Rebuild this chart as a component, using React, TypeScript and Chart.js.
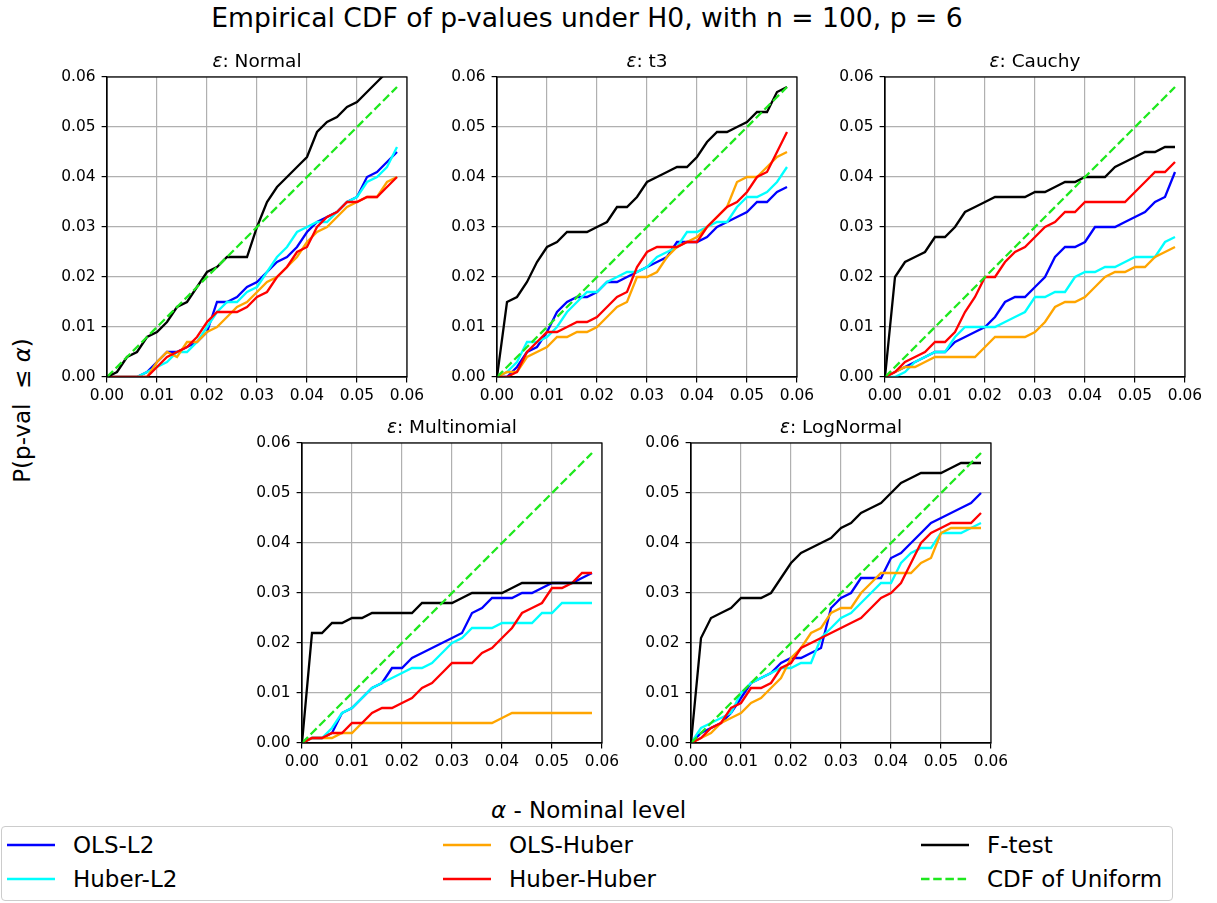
import React, { useEffect, useRef } from "react";
import { Chart, registerables } from "chart.js";

Chart.register(...registerables);

const FONT = "'DejaVu Sans', 'Liberation Sans', sans-serif";

// Nominal levels alpha at which the empirical CDFs are evaluated
const alpha = [
  0, 0.002, 0.004, 0.006, 0.008, 0.01, 0.012, 0.014, 0.016, 0.018,
  0.02, 0.022, 0.024, 0.026, 0.028, 0.03, 0.032, 0.034, 0.036, 0.038,
  0.04, 0.042, 0.044, 0.046, 0.048, 0.05, 0.052, 0.054, 0.056, 0.058,
];

const tickValues = [0, 0.01, 0.02, 0.03, 0.04, 0.05, 0.06];

// ε: Normal
const normalOlsL2 = [0, 0, 0, 0, 0.001, 0.003, 0.005, 0.005, 0.006, 0.007, 0.009, 0.015, 0.015, 0.016, 0.018, 0.019, 0.021, 0.023, 0.024, 0.026, 0.029, 0.031, 0.032, 0.033, 0.035, 0.036, 0.04, 0.041, 0.043, 0.045];
const normalHuberL2 = [0, 0, 0, 0, 0.001, 0.002, 0.003, 0.005, 0.005, 0.007, 0.01, 0.013, 0.015, 0.015, 0.017, 0.018, 0.021, 0.024, 0.026, 0.029, 0.03, 0.031, 0.031, 0.033, 0.035, 0.036, 0.039, 0.04, 0.042, 0.046];
const normalOlsHuber = [0, 0, 0, 0, 0, 0.003, 0.005, 0.004, 0.007, 0.007, 0.009, 0.01, 0.012, 0.014, 0.015, 0.017, 0.019, 0.02, 0.022, 0.024, 0.027, 0.029, 0.03, 0.032, 0.034, 0.035, 0.036, 0.036, 0.039, 0.04];
const normalHuberHuber = [0, 0, 0, 0, 0, 0.002, 0.004, 0.005, 0.006, 0.008, 0.011, 0.013, 0.013, 0.013, 0.014, 0.016, 0.017, 0.02, 0.022, 0.025, 0.026, 0.03, 0.032, 0.033, 0.035, 0.035, 0.036, 0.036, 0.038, 0.04];
const normalFTest = [0, 0.001, 0.004, 0.005, 0.008, 0.009, 0.011, 0.014, 0.015, 0.018, 0.021, 0.022, 0.024, 0.024, 0.024, 0.03, 0.035, 0.038, 0.04, 0.042, 0.044, 0.049, 0.051, 0.052, 0.054, 0.055, 0.057, 0.059, 0.061, 0.063];

// ε: t3
const t3OlsL2 = [0, 0, 0.002, 0.005, 0.006, 0.009, 0.013, 0.015, 0.016, 0.016, 0.017, 0.019, 0.019, 0.02, 0.021, 0.022, 0.023, 0.024, 0.027, 0.027, 0.027, 0.028, 0.03, 0.031, 0.032, 0.033, 0.035, 0.035, 0.037, 0.038];
const t3HuberL2 = [0, 0.001, 0.003, 0.007, 0.007, 0.008, 0.01, 0.013, 0.015, 0.017, 0.017, 0.019, 0.02, 0.021, 0.021, 0.022, 0.024, 0.025, 0.026, 0.029, 0.029, 0.03, 0.031, 0.031, 0.034, 0.036, 0.036, 0.037, 0.039, 0.042];
const t3OlsHuber = [0, 0.001, 0.001, 0.004, 0.005, 0.006, 0.008, 0.008, 0.009, 0.009, 0.01, 0.012, 0.014, 0.015, 0.02, 0.02, 0.021, 0.024, 0.026, 0.027, 0.028, 0.03, 0.032, 0.034, 0.039, 0.04, 0.04, 0.042, 0.044, 0.045];
const t3HuberHuber = [0, 0, 0.001, 0.005, 0.007, 0.009, 0.009, 0.01, 0.011, 0.011, 0.012, 0.014, 0.016, 0.017, 0.022, 0.025, 0.026, 0.026, 0.026, 0.027, 0.027, 0.03, 0.032, 0.034, 0.035, 0.037, 0.04, 0.041, 0.045, 0.049];
const t3FTest = [0, 0.015, 0.016, 0.019, 0.023, 0.026, 0.027, 0.029, 0.029, 0.029, 0.03, 0.031, 0.034, 0.034, 0.036, 0.039, 0.04, 0.041, 0.042, 0.042, 0.044, 0.047, 0.049, 0.049, 0.05, 0.051, 0.053, 0.053, 0.057, 0.058];

// ε: Cauchy
const cauchyOlsL2 = [0, 0.001, 0.002, 0.003, 0.004, 0.005, 0.005, 0.007, 0.008, 0.009, 0.01, 0.012, 0.015, 0.016, 0.016, 0.018, 0.02, 0.024, 0.026, 0.026, 0.027, 0.03, 0.03, 0.03, 0.031, 0.032, 0.033, 0.035, 0.036, 0.041];
const cauchyHuberL2 = [0, 0, 0.001, 0.003, 0.004, 0.005, 0.005, 0.008, 0.01, 0.01, 0.01, 0.01, 0.011, 0.012, 0.013, 0.016, 0.016, 0.017, 0.017, 0.02, 0.021, 0.021, 0.022, 0.022, 0.023, 0.024, 0.024, 0.024, 0.027, 0.028];
const cauchyOlsHuber = [0, 0.001, 0.002, 0.002, 0.003, 0.004, 0.004, 0.004, 0.004, 0.004, 0.006, 0.008, 0.008, 0.008, 0.008, 0.009, 0.011, 0.014, 0.015, 0.015, 0.016, 0.018, 0.02, 0.021, 0.021, 0.022, 0.022, 0.024, 0.025, 0.026];
const cauchyHuberHuber = [0, 0.001, 0.003, 0.004, 0.005, 0.007, 0.007, 0.009, 0.013, 0.016, 0.02, 0.02, 0.023, 0.025, 0.026, 0.028, 0.03, 0.031, 0.033, 0.033, 0.035, 0.035, 0.035, 0.035, 0.035, 0.037, 0.039, 0.041, 0.041, 0.043];
const cauchyFTest = [0, 0.02, 0.023, 0.024, 0.025, 0.028, 0.028, 0.03, 0.033, 0.034, 0.035, 0.036, 0.036, 0.036, 0.036, 0.037, 0.037, 0.038, 0.039, 0.039, 0.04, 0.04, 0.04, 0.042, 0.043, 0.044, 0.045, 0.045, 0.046, 0.046];

// ε: Multinomial
const multiOlsL2 = [0, 0.001, 0.001, 0.002, 0.006, 0.007, 0.009, 0.011, 0.012, 0.015, 0.015, 0.017, 0.018, 0.019, 0.02, 0.021, 0.022, 0.026, 0.027, 0.029, 0.029, 0.029, 0.03, 0.03, 0.031, 0.032, 0.032, 0.032, 0.033, 0.034];
const multiHuberL2 = [0, 0.001, 0.001, 0.003, 0.006, 0.007, 0.009, 0.011, 0.012, 0.013, 0.014, 0.015, 0.015, 0.016, 0.018, 0.02, 0.021, 0.023, 0.023, 0.023, 0.024, 0.024, 0.024, 0.024, 0.026, 0.026, 0.028, 0.028, 0.028, 0.028];
const multiOlsHuber = [0, 0.001, 0.001, 0.001, 0.002, 0.002, 0.004, 0.004, 0.004, 0.004, 0.004, 0.004, 0.004, 0.004, 0.004, 0.004, 0.004, 0.004, 0.004, 0.004, 0.005, 0.006, 0.006, 0.006, 0.006, 0.006, 0.006, 0.006, 0.006, 0.006];
const multiHuberHuber = [0, 0.001, 0.001, 0.002, 0.002, 0.004, 0.004, 0.006, 0.007, 0.007, 0.008, 0.009, 0.011, 0.012, 0.014, 0.016, 0.016, 0.016, 0.018, 0.019, 0.021, 0.023, 0.026, 0.027, 0.028, 0.031, 0.031, 0.032, 0.034, 0.034];
const multiFTest = [0, 0.022, 0.022, 0.024, 0.024, 0.025, 0.025, 0.026, 0.026, 0.026, 0.026, 0.026, 0.028, 0.028, 0.028, 0.028, 0.029, 0.03, 0.03, 0.03, 0.03, 0.031, 0.032, 0.032, 0.032, 0.032, 0.032, 0.032, 0.032, 0.032];

// ε: LogNormal
const logOlsL2 = [0, 0.002, 0.003, 0.004, 0.006, 0.009, 0.012, 0.013, 0.014, 0.016, 0.017, 0.017, 0.018, 0.019, 0.027, 0.029, 0.03, 0.033, 0.033, 0.033, 0.037, 0.038, 0.04, 0.042, 0.044, 0.045, 0.046, 0.047, 0.048, 0.05];
const logHuberL2 = [0, 0.003, 0.004, 0.005, 0.006, 0.01, 0.012, 0.013, 0.014, 0.015, 0.015, 0.016, 0.016, 0.021, 0.023, 0.025, 0.026, 0.028, 0.03, 0.032, 0.032, 0.036, 0.038, 0.039, 0.039, 0.042, 0.042, 0.042, 0.043, 0.044];
const logOlsHuber = [0, 0.001, 0.002, 0.004, 0.005, 0.006, 0.008, 0.009, 0.011, 0.013, 0.017, 0.019, 0.022, 0.023, 0.026, 0.027, 0.027, 0.03, 0.032, 0.034, 0.034, 0.034, 0.034, 0.036, 0.037, 0.042, 0.043, 0.043, 0.043, 0.043];
const logHuberHuber = [0, 0.001, 0.003, 0.004, 0.007, 0.008, 0.011, 0.011, 0.012, 0.015, 0.016, 0.019, 0.02, 0.021, 0.022, 0.023, 0.024, 0.025, 0.027, 0.029, 0.03, 0.032, 0.036, 0.04, 0.042, 0.043, 0.044, 0.044, 0.044, 0.046];
const logFTest = [0, 0.021, 0.025, 0.026, 0.027, 0.029, 0.029, 0.029, 0.03, 0.033, 0.036, 0.038, 0.039, 0.04, 0.041, 0.043, 0.044, 0.046, 0.047, 0.048, 0.05, 0.052, 0.053, 0.054, 0.054, 0.054, 0.055, 0.056, 0.056, 0.056];

const seriesLabels = ["OLS-L2", "Huber-L2", "OLS-Huber", "Huber-Huber", "F-test"];
const seriesColors = ["#0000ff", "#00ffff", "#ffa500", "#ff0000", "#000000"];
const uniformLabel = "CDF of Uniform";
const uniformColor = "#1ee81e";

const panelNames = ["Normal", "t3", "Cauchy", "Multinomial", "LogNormal"];
const panelSeries = [
  [normalOlsL2, normalHuberL2, normalOlsHuber, normalHuberHuber, normalFTest],
  [t3OlsL2, t3HuberL2, t3OlsHuber, t3HuberHuber, t3FTest],
  [cauchyOlsL2, cauchyHuberL2, cauchyOlsHuber, cauchyHuberHuber, cauchyFTest],
  [multiOlsL2, multiHuberL2, multiOlsHuber, multiHuberHuber, multiFTest],
  [logOlsL2, logHuberL2, logOlsHuber, logHuberHuber, logFTest],
];

// Top-left corner of each plotting area (300 x 300 px)
const panelOrigins = [
  [107, 77],
  [497, 77],
  [885, 77],
  [302, 443],
  [691, 443],
];

const PLOT = 300;
const AXIS_W = 60;
const AXIS_H = 30;
const PAD_TOP = 18;
const PAD_RIGHT = 26;
const LINE_W = 2.3;
const DASH = [8.5, 3.7];

const framePlugin = {
  id: "axesFrame",
  afterDatasetsDraw(chart: any) {
    const { ctx, chartArea: a } = chart;
    ctx.save();
    ctx.strokeStyle = "#000";
    ctx.lineWidth = 1.2;
    ctx.strokeRect(a.left, a.top, a.right - a.left, a.bottom - a.top);
    ctx.restore();
  },
};

function axisOptions(isX: boolean) {
  return {
    type: "linear",
    min: 0,
    max: 0.06,
    afterBuildTicks: (scale: any) => {
      scale.ticks = tickValues.map((v) => ({ value: v }));
    },
    afterFit: (scale: any) => {
      if (isX) scale.height = AXIS_H;
      else scale.width = AXIS_W;
    },
    ticks: {
      color: "#000",
      font: { family: FONT, size: 15.4 },
      padding: isX ? 4 : 6,
      maxRotation: 0,
      autoSkip: false,
      callback: (v: number) => Number(v).toFixed(2),
    },
    grid: {
      color: "#b0b0b0",
      lineWidth: 1.2,
      drawTicks: true,
      tickLength: 5.4,
      tickColor: "#000",
      tickWidth: 1.2,
    },
    border: { display: true, color: "#000", width: 1.2 },
  };
}

function Panel({ index }: { index: number }) {
  const ref = useRef<HTMLCanvasElement>(null);
  const [left, top] = panelOrigins[index];

  useEffect(() => {
    const canvas = ref.current;
    if (!canvas) return;
    const datasets: any[] = panelSeries[index].map((vals, k) => ({
      label: seriesLabels[k],
      data: alpha.map((a, i) => ({ x: a, y: vals[i] })),
      borderColor: seriesColors[k],
      backgroundColor: seriesColors[k],
      borderWidth: LINE_W,
      pointRadius: 0,
      tension: 0,
      fill: false,
      clip: 0,
      order: 10 - k,
    }));
    datasets.push({
      label: uniformLabel,
      data: alpha.map((a) => ({ x: a, y: a })),
      borderColor: uniformColor,
      backgroundColor: uniformColor,
      borderWidth: LINE_W,
      borderDash: DASH,
      pointRadius: 0,
      tension: 0,
      fill: false,
      clip: 0,
      order: 0,
    });

    const chart = new Chart(canvas, {
      type: "line",
      data: { datasets },
      options: {
        responsive: false,
        animation: false,
        devicePixelRatio: 1,
        events: [],
        layout: { padding: { left: 0, top: PAD_TOP, right: PAD_RIGHT, bottom: 0 } },
        plugins: {
          legend: { display: false },
          tooltip: { enabled: false },
          title: { display: false },
        },
        scales: {
          x: axisOptions(true) as any,
          y: axisOptions(false) as any,
        },
      },
      plugins: [framePlugin],
    });
    return () => chart.destroy();
  }, [index]);

  const w = AXIS_W + PLOT + PAD_RIGHT;
  const h = PAD_TOP + PLOT + AXIS_H;
  return (
    <>
      <canvas
        ref={ref}
        width={w}
        height={h}
        style={{ position: "absolute", left: left - AXIS_W, top: top - PAD_TOP, width: w, height: h }}
      />
      <div
        style={{
          position: "absolute",
          left: left + PLOT / 2 - 150,
          width: 300,
          top: top - 25,
          textAlign: "center",
          fontSize: 18.5,
          lineHeight: 1,
          whiteSpace: "nowrap",
        }}
      >
        <i>ε</i>: {panelNames[index]}
      </div>
    </>
  );
}

function LegendLine({ color, dashed }: { color: string; dashed?: boolean }) {
  return (
    <svg width={48} height={6} style={{ display: "block" }}>
      <line
        x1={0}
        y1={3}
        x2={48}
        y2={3}
        stroke={color}
        strokeWidth={LINE_W}
        strokeDasharray={dashed ? DASH.join(" ") : undefined}
      />
    </svg>
  );
}

const legendEntries = [
  { label: seriesLabels[0], color: seriesColors[0], col: 0, row: 0 },
  { label: seriesLabels[1], color: seriesColors[1], col: 0, row: 1 },
  { label: seriesLabels[2], color: seriesColors[2], col: 1, row: 0 },
  { label: seriesLabels[3], color: seriesColors[3], col: 1, row: 1 },
  { label: seriesLabels[4], color: seriesColors[4], col: 2, row: 0 },
  { label: uniformLabel, color: uniformColor, col: 2, row: 1, dashed: true },
];
const legendColX = [7, 443, 921];
const legendRowY = [845, 879];

export default function App() {
  return (
    <div
      style={{
        position: "absolute",
        left: 0,
        top: 0,
        width: 1217,
        height: 903,
        background: "#fff",
        fontFamily: FONT,
        color: "#000",
        overflow: "hidden",
      }}
    >
      <div
        style={{
          position: "absolute",
          left: 587 - 450,
          width: 900,
          top: 4.5,
          textAlign: "center",
          fontSize: 26.6,
          lineHeight: 1,
          whiteSpace: "nowrap",
        }}
      >
        Empirical CDF of p-values under H0, with n = 100, p = 6
      </div>

      {panelNames.map((_, i) => (
        <Panel key={i} index={i} />
      ))}

      <div
        style={{
          position: "absolute",
          left: 22 - 120,
          top: 410 - 11.5,
          width: 240,
          height: 23,
          textAlign: "center",
          fontSize: 23,
          lineHeight: 1,
          whiteSpace: "pre",
          transform: "rotate(-90deg)",
          transformOrigin: "50% 50%",
        }}
      >
        P(p-val  ≤ <i>α</i>)
      </div>

      <div
        style={{
          position: "absolute",
          left: 588.6 - 200,
          width: 400,
          top: 799,
          textAlign: "center",
          fontSize: 23,
          lineHeight: 1,
          whiteSpace: "nowrap",
        }}
      >
        <i>α</i> - Nominal level
      </div>

      <div
        style={{
          position: "absolute",
          left: 1,
          top: 826,
          width: 1172,
          height: 75,
          boxSizing: "border-box",
          border: "1.2px solid #cccccc",
          borderRadius: 4,
          background: "#fff",
        }}
      />
      {legendEntries.map((e) => (
        <React.Fragment key={e.label}>
          <div
            style={{
              position: "absolute",
              left: legendColX[e.col],
              top: legendRowY[e.row] - 3,
            }}
          >
            <LegendLine color={e.color} dashed={e.dashed} />
          </div>
          <div
            style={{
              position: "absolute",
              left: legendColX[e.col] + 66,
              top: legendRowY[e.row] + 8.4 - 19.5,
              fontSize: 23,
              lineHeight: 1,
              whiteSpace: "nowrap",
            }}
          >
            {e.label}
          </div>
        </React.Fragment>
      ))}
    </div>
  );
}
